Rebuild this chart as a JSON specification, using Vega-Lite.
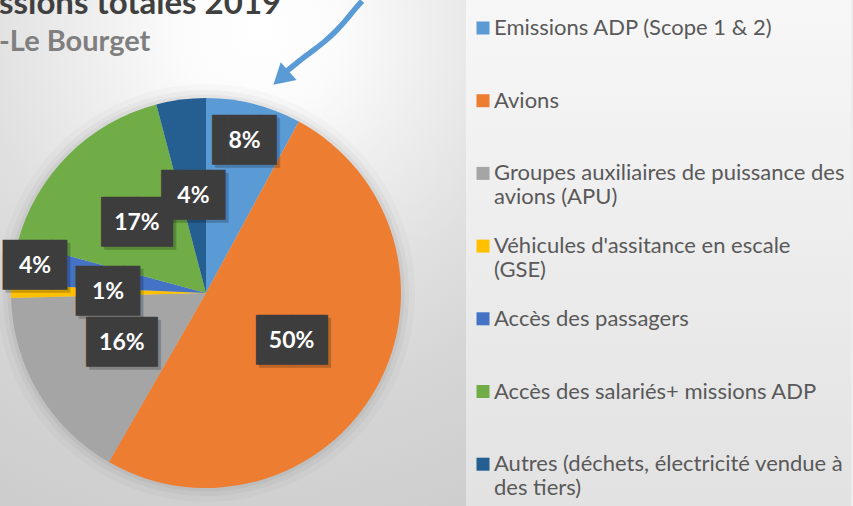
{
  "$schema": "https://vega.github.io/schema/vega-lite/v6.json",
  "width": 520,
  "height": 586,
  "autosize": {"type": "none"},
  "padding": {"left": -54, "top": 0, "right": 387, "bottom": -80},
  "background": "#EDEDED",
  "view": {
    "stroke": null,
    "fill": {
      "gradient": "radial",
      "x1": 0.59, "y1": 0.05, "r1": 0,
      "x2": 0.59, "y2": 0.05, "r2": 0.94,
      "stops": [
        {"offset": 0, "color": "#FFFFFF"},
        {"offset": 0.15, "color": "#FBFBFB"},
        {"offset": 0.3, "color": "#EFEFEF"},
        {"offset": 0.5, "color": "#E0E0E0"},
        {"offset": 0.7, "color": "#D5D5D5"},
        {"offset": 1, "color": "#CCCCCC"}
      ]
    }
  },
  "title": {
    "text": "ssions totales 2019",
    "subtitle": "-Le Bourget",
    "anchor": "start",
    "frame": "group",
    "orient": "top",
    "dx": 53,
    "offset": -67,
    "font": "Lato",
    "fontSize": 33,
    "fontWeight": "bold",
    "color": "#404040",
    "subtitleFont": "Lato",
    "subtitleFontSize": 29,
    "subtitleFontWeight": "bold",
    "subtitleColor": "#7F7F7F",
    "subtitlePadding": 7
  },
  "data": {
    "values": [
      {"categorie": "Emissions ADP (Scope 1 & 2)", "part": 0.079, "rang": 1},
      {"categorie": "Avions", "part": 0.504, "rang": 2},
      {"categorie": "Groupes auxiliaires de puissance des avions (APU)", "part": 0.163, "rang": 3},
      {"categorie": "Véhicules d'assitance en escale (GSE)", "part": 0.011, "rang": 4},
      {"categorie": "Accès des passagers", "part": 0.035, "rang": 5},
      {"categorie": "Accès des salariés+ missions ADP", "part": 0.167, "rang": 6},
      {"categorie": "Autres (déchets, électricité vendue à des tiers)", "part": 0.041, "rang": 7}
    ]
  },
  "layer": [
    {
      "transform": [{"aggregate": [{"op": "sum", "field": "part", "as": "total"}]}],
      "mark": {"type": "arc", "outerRadius": 209, "color": "#000000", "opacity": 0.02},
      "encoding": {"theta": {"field": "total", "type": "quantitative"}}
    },
    {
      "transform": [{"aggregate": [{"op": "sum", "field": "part", "as": "total"}]}],
      "mark": {"type": "arc", "outerRadius": 203, "color": "#000000", "opacity": 0.03},
      "encoding": {"theta": {"field": "total", "type": "quantitative"}}
    },
    {
      "transform": [{"aggregate": [{"op": "sum", "field": "part", "as": "total"}]}],
      "mark": {"type": "arc", "outerRadius": 198.5, "color": "#000000", "opacity": 0.04},
      "encoding": {"theta": {"field": "total", "type": "quantitative"}}
    },
    {
      "mark": {"type": "arc", "outerRadius": 195},
      "encoding": {
        "theta": {"field": "part", "type": "quantitative", "stack": true},
        "order": {"field": "rang", "type": "quantitative"},
        "color": {
          "field": "categorie",
          "type": "nominal",
          "scale": {
            "domain": [
              "Emissions ADP (Scope 1 & 2)",
              "Avions",
              "Groupes auxiliaires de puissance des avions (APU)",
              "Véhicules d'assitance en escale (GSE)",
              "Accès des passagers",
              "Accès des salariés+ missions ADP",
              "Autres (déchets, électricité vendue à des tiers)"
            ],
            "range": ["#5B9BD5", "#ED7D31", "#A5A5A5", "#FFC000", "#4472C4", "#70AD47", "#255E91"]
          },
          "legend": {
            "title": " ",
            "labelExpr": "length(datum.label) > 32 ? [substring(datum.label, 0, lastindexof(substring(datum.label, 0, 38), ' ')), substring(datum.label, lastindexof(substring(datum.label, 0, 38), ' ') + 1)] : [datum.label, '']"
          }
        }
      }
    },
    {
      "mark": {"type": "text", "font": "DejaVu Sans", "fontSize": 42, "color": "#000000", "radius": 98, "dx": 3, "dy": 3},
      "encoding": {
        "theta": {"field": "part", "type": "quantitative", "stack": true},
        "order": {"field": "rang", "type": "quantitative"},
        "detail": {"field": "categorie", "type": "nominal"},
        "text": {"condition": {"test": "datum.part >= 0.095", "value": "▕██▏"}, "value": "▐█▌"},
        "opacity": {"condition": {"test": "datum.rang == 1 || datum.rang == 5", "value": 0}, "value": 0.2}
      }
    },
    {
      "mark": {"type": "text", "font": "DejaVu Sans", "fontSize": 42, "color": "#3D3D3D", "radius": 98},
      "encoding": {
        "theta": {"field": "part", "type": "quantitative", "stack": true},
        "order": {"field": "rang", "type": "quantitative"},
        "detail": {"field": "categorie", "type": "nominal"},
        "text": {"condition": {"test": "datum.part >= 0.095", "value": "▕██▏"}, "value": "▐█▌"},
        "opacity": {"condition": {"test": "datum.rang == 1 || datum.rang == 5", "value": 0}, "value": 1}
      }
    },
    {
      "mark": {"type": "text", "font": "Lato", "fontSize": 23, "fontWeight": "bold", "color": "#FFFFFF", "radius": 98},
      "encoding": {
        "theta": {"field": "part", "type": "quantitative", "stack": true},
        "order": {"field": "rang", "type": "quantitative"},
        "detail": {"field": "categorie", "type": "nominal"},
        "text": {"field": "part", "type": "quantitative", "format": ".0%"},
        "opacity": {"condition": {"test": "datum.rang == 1 || datum.rang == 5", "value": 0}, "value": 1}
      }
    },
    {
      "mark": {"type": "text", "font": "DejaVu Sans", "fontSize": 42, "color": "#000000", "radius": 157, "dx": 3, "dy": 3},
      "encoding": {
        "theta": {"field": "part", "type": "quantitative", "stack": true},
        "order": {"field": "rang", "type": "quantitative"},
        "detail": {"field": "categorie", "type": "nominal"},
        "text": {"value": "▐█▌"},
        "opacity": {"condition": {"test": "datum.rang == 1", "value": 0.2}, "value": 0}
      }
    },
    {
      "mark": {"type": "text", "font": "DejaVu Sans", "fontSize": 42, "color": "#3D3D3D", "radius": 157},
      "encoding": {
        "theta": {"field": "part", "type": "quantitative", "stack": true},
        "order": {"field": "rang", "type": "quantitative"},
        "detail": {"field": "categorie", "type": "nominal"},
        "text": {"value": "▐█▌"},
        "opacity": {"condition": {"test": "datum.rang == 1", "value": 1}, "value": 0}
      }
    },
    {
      "mark": {"type": "text", "font": "Lato", "fontSize": 23, "fontWeight": "bold", "color": "#FFFFFF", "radius": 157},
      "encoding": {
        "theta": {"field": "part", "type": "quantitative", "stack": true},
        "order": {"field": "rang", "type": "quantitative"},
        "detail": {"field": "categorie", "type": "nominal"},
        "text": {"field": "part", "type": "quantitative", "format": ".0%"},
        "opacity": {"condition": {"test": "datum.rang == 1", "value": 1}, "value": 0}
      }
    },
    {
      "mark": {"type": "text", "font": "DejaVu Sans", "fontSize": 42, "color": "#000000", "radius": 173, "dx": 3, "dy": 3},
      "encoding": {
        "theta": {"field": "part", "type": "quantitative", "stack": true},
        "order": {"field": "rang", "type": "quantitative"},
        "detail": {"field": "categorie", "type": "nominal"},
        "text": {"value": "▐█▌"},
        "opacity": {"condition": {"test": "datum.rang == 5", "value": 0.2}, "value": 0}
      }
    },
    {
      "mark": {"type": "text", "font": "DejaVu Sans", "fontSize": 42, "color": "#3D3D3D", "radius": 173},
      "encoding": {
        "theta": {"field": "part", "type": "quantitative", "stack": true},
        "order": {"field": "rang", "type": "quantitative"},
        "detail": {"field": "categorie", "type": "nominal"},
        "text": {"value": "▐█▌"},
        "opacity": {"condition": {"test": "datum.rang == 5", "value": 1}, "value": 0}
      }
    },
    {
      "mark": {"type": "text", "font": "Lato", "fontSize": 23, "fontWeight": "bold", "color": "#FFFFFF", "radius": 173},
      "encoding": {
        "theta": {"field": "part", "type": "quantitative", "stack": true},
        "order": {"field": "rang", "type": "quantitative"},
        "detail": {"field": "categorie", "type": "nominal"},
        "text": {"field": "part", "type": "quantitative", "format": ".0%"},
        "opacity": {"condition": {"test": "datum.rang == 5", "value": 1}, "value": 0}
      }
    },
    {
      "data": {
        "values": [
          {"px": 362, "py": 1},
          {"px": 355, "py": 9},
          {"px": 346, "py": 20},
          {"px": 336, "py": 31},
          {"px": 324, "py": 42},
          {"px": 311, "py": 52},
          {"px": 298, "py": 62},
          {"px": 287, "py": 71}
        ]
      },
      "mark": {"type": "line", "color": "#5B9BD5", "strokeWidth": 5.5, "interpolate": "monotone"},
      "encoding": {
        "x": {"field": "px", "type": "quantitative", "axis": null, "scale": {"domain": [-54, 466], "nice": false, "zero": false}},
        "y": {"field": "py", "type": "quantitative", "axis": null, "scale": {"domain": [0, 586], "nice": false, "zero": false, "reverse": true}}
      }
    },
    {
      "data": {"values": [{"px": 281, "py": 78}]},
      "mark": {"type": "point", "shape": "triangle-up", "angle": 228, "size": 560, "filled": true, "color": "#5B9BD5", "opacity": 1},
      "encoding": {
        "x": {"field": "px", "type": "quantitative", "axis": null},
        "y": {"field": "py", "type": "quantitative", "axis": null}
      }
    }
  ],
  "config": {
    "legend": {
      "orient": "right",
      "offset": 0,
      "padding": 6,
      "fillColor": {"value": {
        "gradient": "linear", "x1": 0, "y1": 0, "x2": 0, "y2": 1,
        "stops": [{"offset": 0, "color": "#F7F7F7"}, {"offset": 1, "color": "#E2E2E2"}]
      }},
      "symbolType": "square",
      "symbolSize": 169,
      "symbolStrokeWidth": 0,
      "labelFont": "Lato",
      "labelFontSize": 22,
      "labelColor": "#595959",
      "labelLimit": 500,
      "labelOffset": 0,
      "rowPadding": 26.7,
      "titleFontSize": 1,
      "titlePadding": 10
    }
  }
}
